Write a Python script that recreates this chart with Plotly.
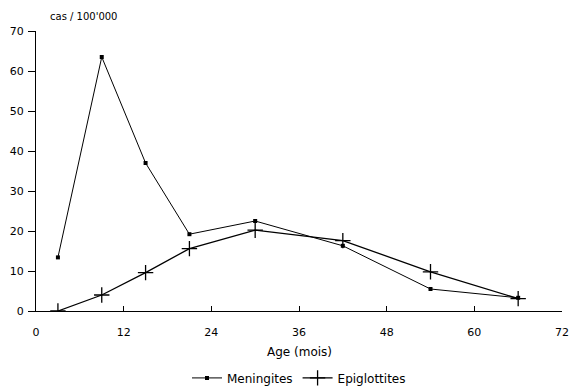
import plotly.graph_objects as go

age_months = [3, 9, 15, 21, 30, 42, 54, 66]
meningites = [13.4, 63.5, 37.0, 19.2, 22.5, 16.3, 5.5, 3.3]
epiglottites = [0.0, 4.0, 9.6, 15.6, 20.2, 17.6, 9.8, 3.1]
x_ticks = [0, 12, 24, 36, 48, 60, 72]
y_ticks = [0, 10, 20, 30, 40, 50, 60, 70]

FONT = "DejaVu Sans, Verdana, sans-serif"

fig = go.Figure()
fig.add_trace(go.Scatter(
    x=age_months, y=meningites, name="Meningites", mode="lines+markers",
    line=dict(color="black", width=1),
    marker=dict(symbol="square", size=4, color="black"),
))
fig.add_trace(go.Scatter(
    x=age_months, y=epiglottites, name="Epiglottites", mode="lines+markers",
    line=dict(color="black", width=1.3),
    marker=dict(symbol="cross-thin", size=11, color="black",
                line=dict(color="black", width=1.3)),
))

fig.update_layout(
    width=570, height=388,
    margin=dict(l=36, r=8, t=31, b=77),
    paper_bgcolor="white", plot_bgcolor="white",
    font=dict(family=FONT, size=11, color="black"),
    showlegend=True,
    legend=dict(orientation="h", x=0.5, xanchor="center",
                yref="container", y=0.026, yanchor="middle",
                font=dict(family=FONT, size=12, color="black"),
                itemwidth=30, tracegroupgap=0),
    xaxis=dict(range=[0, 72], tickvals=x_ticks, ticktext=[str(v) for v in x_ticks],
               tickfont=dict(family=FONT, size=11),
               showgrid=False, zeroline=False, showline=True, linecolor="black",
               linewidth=1, ticks="inside", ticklen=5, tickcolor="black",
               ticklabelstandoff=11, automargin=False, fixedrange=True),
    yaxis=dict(range=[0, 70], tickvals=y_ticks, ticktext=[str(v) for v in y_ticks],
               tickfont=dict(family=FONT, size=11),
               showgrid=False, zeroline=False, showline=True, linecolor="black",
               linewidth=1, ticks="outside", ticklen=7, tickcolor="black",
               ticklabelstandoff=2, automargin=False, fixedrange=True),
    annotations=[
        dict(text="Age (mois)", x=0.5, xref="paper", y=-0.115, yref="paper",
             xanchor="center", yanchor="top", showarrow=False,
             font=dict(family=FONT, size=12, color="black")),
        dict(text="cas / 100'000", x=0.0, xref="paper", y=1.025, yref="paper",
             xanchor="left", yanchor="bottom", showarrow=False, xshift=12,
             font=dict(family=FONT, size=10, color="black")),
    ],
)

fig.write_html("out.html", config={"displayModeBar": False},
               post_script="document.body.style.margin='0';document.body.style.overflow='hidden';")
